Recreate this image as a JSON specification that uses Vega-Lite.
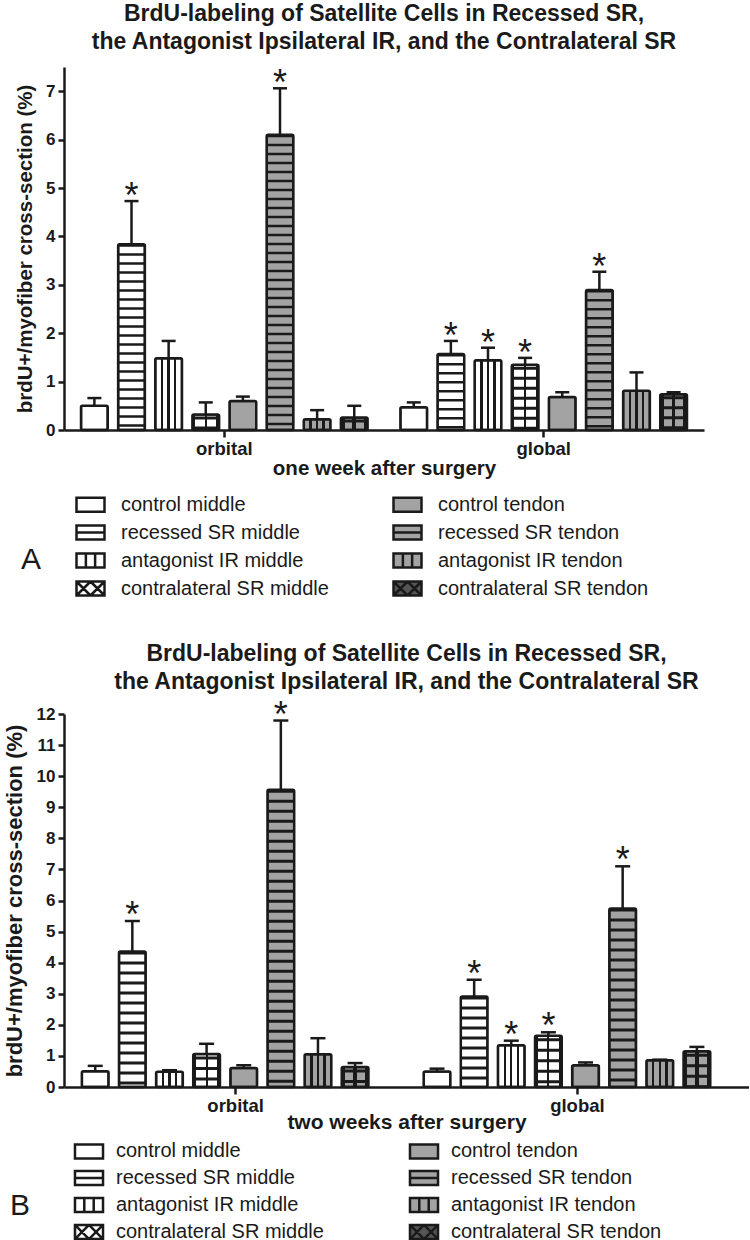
{
  "$schema": "https://vega.github.io/schema/vega-lite/v6.json",
  "padding": {"left": 3, "top": 3, "right": 0, "bottom": 0},
  "spacing": 41,
  "columns": 1,
  "align": "none",
  "resolve": {"scale": {"fill": "independent", "shape": "independent"}, "legend": {"fill": "independent", "shape": "independent"}},
  "config": {"view": {"stroke": null}, "axis": {"grid": false}, "font": "Liberation Sans"},
  "datasets": {
    "a": [
      {"region": "orbital", "series": "control middle", "mean": 0.50, "upper": 0.66, "sig": false},
      {"region": "orbital", "series": "recessed SR middle", "mean": 3.84, "upper": 4.73, "sig": true},
      {"region": "orbital", "series": "antagonist IR middle", "mean": 1.48, "upper": 1.84, "sig": false},
      {"region": "orbital", "series": "contralateral SR middle", "mean": 0.32, "upper": 0.57, "sig": false},
      {"region": "orbital", "series": "control tendon", "mean": 0.60, "upper": 0.69, "sig": false},
      {"region": "orbital", "series": "recessed SR tendon", "mean": 6.10, "upper": 7.06, "sig": true},
      {"region": "orbital", "series": "antagonist IR tendon", "mean": 0.22, "upper": 0.41, "sig": false},
      {"region": "orbital", "series": "contralateral SR tendon", "mean": 0.26, "upper": 0.50, "sig": false},
      {"region": "global", "series": "control middle", "mean": 0.47, "upper": 0.57, "sig": false},
      {"region": "global", "series": "recessed SR middle", "mean": 1.57, "upper": 1.84, "sig": true},
      {"region": "global", "series": "antagonist IR middle", "mean": 1.44, "upper": 1.70, "sig": true},
      {"region": "global", "series": "contralateral SR middle", "mean": 1.35, "upper": 1.49, "sig": true},
      {"region": "global", "series": "control tendon", "mean": 0.68, "upper": 0.78, "sig": false},
      {"region": "global", "series": "recessed SR tendon", "mean": 2.89, "upper": 3.27, "sig": true},
      {"region": "global", "series": "antagonist IR tendon", "mean": 0.81, "upper": 1.19, "sig": false},
      {"region": "global", "series": "contralateral SR tendon", "mean": 0.74, "upper": 0.78, "sig": false}
    ],
    "b": [
      {"region": "orbital", "series": "control middle", "mean": 0.51, "upper": 0.68, "sig": false},
      {"region": "orbital", "series": "recessed SR middle", "mean": 4.36, "upper": 5.34, "sig": true},
      {"region": "orbital", "series": "antagonist IR middle", "mean": 0.49, "upper": 0.54, "sig": false},
      {"region": "orbital", "series": "contralateral SR middle", "mean": 1.06, "upper": 1.39, "sig": false},
      {"region": "orbital", "series": "control tendon", "mean": 0.61, "upper": 0.70, "sig": false},
      {"region": "orbital", "series": "recessed SR tendon", "mean": 9.56, "upper": 11.79, "sig": true},
      {"region": "orbital", "series": "antagonist IR tendon", "mean": 1.05, "upper": 1.57, "sig": false},
      {"region": "orbital", "series": "contralateral SR tendon", "mean": 0.64, "upper": 0.77, "sig": false},
      {"region": "global", "series": "control middle", "mean": 0.50, "upper": 0.59, "sig": false},
      {"region": "global", "series": "recessed SR middle", "mean": 2.91, "upper": 3.45, "sig": true},
      {"region": "global", "series": "antagonist IR middle", "mean": 1.34, "upper": 1.49, "sig": true},
      {"region": "global", "series": "contralateral SR middle", "mean": 1.65, "upper": 1.76, "sig": true},
      {"region": "global", "series": "control tendon", "mean": 0.70, "upper": 0.79, "sig": false},
      {"region": "global", "series": "recessed SR tendon", "mean": 5.74, "upper": 7.10, "sig": true},
      {"region": "global", "series": "antagonist IR tendon", "mean": 0.86, "upper": 0.88, "sig": false},
      {"region": "global", "series": "contralateral SR tendon", "mean": 1.15, "upper": 1.29, "sig": false}
    ]
  },
  "concat": [
    {
      "width": 640,
      "height": 363,
      "data": {"name": "a"},
      "title": {"text": ["BrdU-labeling of Satellite Cells in Recessed SR,", "the Antagonist Ipsilateral IR, and the Contralateral SR"], "font": "Liberation Sans", "fontSize": 23, "fontWeight": "bold", "color": "#1a1a1a", "lineHeight": 28, "anchor": "middle", "frame": "group", "offset": 12},
      "encoding": {
        "x": {"field": "region", "type": "nominal", "sort": ["orbital", "global"], "scale": {"paddingInner": 0.07, "paddingOuter": 0.037},
          "axis": {"title": "one week after surgery", "labelAngle": 0, "domainWidth": 2.5, "domainColor": "#1a1a1a", "tickColor": "#1a1a1a", "tickWidth": 2.5, "tickSize": 7, "labelFont": "Liberation Sans", "labelFontWeight": "bold", "labelFontSize": 18.5, "labelColor": "#1a1a1a", "labelPadding": 2, "titleFont": "Liberation Sans", "titleFontWeight": "bold", "titleFontSize": 20.5, "titleColor": "#1a1a1a", "titlePadding": 1}},
        "xOffset": {"field": "series", "type": "nominal", "scale": {"domain": ["control middle", "recessed SR middle", "antagonist IR middle", "contralateral SR middle", "control tendon", "recessed SR tendon", "antagonist IR tendon", "contralateral SR tendon"], "paddingInner": 0.28, "paddingOuter": 0.14}},
        "y": {"field": "mean", "type": "quantitative", "scale": {"domain": [0, 7.5], "nice": false},
          "axis": {"title": "brdU+/myofiber cross-section (%)", "values": [0, 1, 2, 3, 4, 5, 6, 7], "format": "d", "domainWidth": 2.5, "domainColor": "#1a1a1a", "tickColor": "#1a1a1a", "tickWidth": 2.5, "tickSize": 6, "labelFont": "Liberation Sans", "labelFontWeight": "bold", "labelFontSize": 17, "labelColor": "#1a1a1a", "labelPadding": 3, "titleFont": "Liberation Sans", "titleFontWeight": "bold", "titleFontSize": 20.5, "titleColor": "#1a1a1a", "titlePadding": 10}}
      },
      "layer": [
        {"mark": {"type": "bar", "cornerRadius": 1.5},
         "encoding": {
           "fill": {"field": "series", "type": "nominal", "scale": {"domain": ["control middle", "recessed SR middle", "antagonist IR middle", "contralateral SR middle", "control tendon", "recessed SR tendon", "antagonist IR tendon", "contralateral SR tendon"], "range": ["#ffffff", "#ffffff", "#ffffff", "#ffffff", "#a3a3a3", "#a3a3a3", "#a3a3a3", "#555555"]},
             "legend": {"title": "A", "orient": "none", "legendX": -43, "legendY": 422, "titleOrient": "left", "titleAngle": 0, "titleFont": "Liberation Sans", "titleFontSize": 30, "titleFontWeight": "normal", "titleColor": "#1a1a1a", "titlePadding": 33, "titleAnchor": "middle", "titleBaseline": "top", "columns": 2, "columnPadding": 59, "rowPadding": 0, "labelFont": "Liberation Sans", "labelFontSize": 20, "labelColor": "#1a1a1a", "labelOffset": 15, "labelLimit": 400, "symbolStrokeColor": "#1a1a1a", "symbolStrokeWidth": 2.5, "symbolSize": 784}}
         }},
        {"transform": [{"filter": "datum.series === 'antagonist IR middle'"}],
         "mark": {"type": "bar", "cornerRadius": 1.5, "fill": {"gradient": "linear", "x1": 0, "y1": 0, "x2": 1, "y2": 0, "stops": [{"offset": 0, "color": "#ffffff"}, {"offset": 0.21, "color": "#ffffff"}, {"offset": 0.21, "color": "#1a1a1a"}, {"offset": 0.3, "color": "#1a1a1a"}, {"offset": 0.3, "color": "#ffffff"}, {"offset": 0.455, "color": "#ffffff"}, {"offset": 0.455, "color": "#1a1a1a"}, {"offset": 0.545, "color": "#1a1a1a"}, {"offset": 0.545, "color": "#ffffff"}, {"offset": 0.7, "color": "#ffffff"}, {"offset": 0.7, "color": "#1a1a1a"}, {"offset": 0.79, "color": "#1a1a1a"}, {"offset": 0.79, "color": "#ffffff"}, {"offset": 1, "color": "#ffffff"}]}}},
        {"transform": [{"filter": "datum.series === 'antagonist IR tendon'"}],
         "mark": {"type": "bar", "cornerRadius": 1.5, "fill": {"gradient": "linear", "x1": 0, "y1": 0, "x2": 1, "y2": 0, "stops": [{"offset": 0, "color": "#a3a3a3"}, {"offset": 0.21, "color": "#a3a3a3"}, {"offset": 0.21, "color": "#1a1a1a"}, {"offset": 0.3, "color": "#1a1a1a"}, {"offset": 0.3, "color": "#a3a3a3"}, {"offset": 0.455, "color": "#a3a3a3"}, {"offset": 0.455, "color": "#1a1a1a"}, {"offset": 0.545, "color": "#1a1a1a"}, {"offset": 0.545, "color": "#a3a3a3"}, {"offset": 0.7, "color": "#a3a3a3"}, {"offset": 0.7, "color": "#1a1a1a"}, {"offset": 0.79, "color": "#1a1a1a"}, {"offset": 0.79, "color": "#a3a3a3"}, {"offset": 1, "color": "#a3a3a3"}]}}},
        {"transform": [{"filter": "datum.series === 'contralateral SR middle'"}],
         "mark": {"type": "bar", "cornerRadius": 1.5, "fill": {"gradient": "linear", "x1": 0, "y1": 0, "x2": 1, "y2": 0, "stops": [{"offset": 0, "color": "#1a1a1a"}, {"offset": 0.1, "color": "#1a1a1a"}, {"offset": 0.1, "color": "#ffffff"}, {"offset": 0.46, "color": "#ffffff"}, {"offset": 0.46, "color": "#1a1a1a"}, {"offset": 0.54, "color": "#1a1a1a"}, {"offset": 0.54, "color": "#ffffff"}, {"offset": 0.9, "color": "#ffffff"}, {"offset": 0.9, "color": "#1a1a1a"}, {"offset": 1, "color": "#1a1a1a"}]}}},
        {"transform": [{"filter": "datum.series === 'contralateral SR tendon'"}],
         "mark": {"type": "bar", "cornerRadius": 1.5, "fill": {"gradient": "linear", "x1": 0, "y1": 0, "x2": 1, "y2": 0, "stops": [{"offset": 0, "color": "#1a1a1a"}, {"offset": 0.14, "color": "#1a1a1a"}, {"offset": 0.14, "color": "#a3a3a3"}, {"offset": 0.43, "color": "#a3a3a3"}, {"offset": 0.43, "color": "#1a1a1a"}, {"offset": 0.57, "color": "#1a1a1a"}, {"offset": 0.57, "color": "#a3a3a3"}, {"offset": 0.86, "color": "#a3a3a3"}, {"offset": 0.86, "color": "#1a1a1a"}, {"offset": 1, "color": "#1a1a1a"}]}}},
        {"transform": [{"filter": "datum.series === 'recessed SR middle' || datum.series === 'recessed SR tendon'"}],
         "mark": {"type": "rule", "stroke": "#1a1a1a", "strokeWidth": 25, "strokeDash": [2.5, 6.5], "strokeCap": "butt", "clip": true},
         "encoding": {"y2": {"datum": 0}}},
        {"transform": [{"filter": "datum.series === 'contralateral SR middle' || datum.series === 'contralateral SR tendon'"}],
         "mark": {"type": "rule", "stroke": "#1a1a1a", "strokeWidth": 25, "strokeDash": [3, 7], "strokeDashOffset": 8, "strokeCap": "butt", "clip": true},
         "encoding": {"y2": {"datum": 0}}},
        {"mark": {"type": "bar", "cornerRadius": 1.5, "fill": "#ffffff", "fillOpacity": 0, "stroke": "#1a1a1a", "strokeWidth": 2.5}},
        {"mark": {"type": "rule", "stroke": "#1a1a1a", "strokeWidth": 2.5},
         "encoding": {"y2": {"field": "upper"}}},
        {"mark": {"type": "tick", "orient": "horizontal", "size": 14, "thickness": 2.5, "color": "#1a1a1a", "opacity": 1},
         "encoding": {"y": {"field": "upper", "type": "quantitative",
           "axis": {"title": "brdU+/myofiber cross-section (%)", "values": [0, 1, 2, 3, 4, 5, 6, 7], "format": "d", "domainWidth": 2.5, "domainColor": "#1a1a1a", "tickColor": "#1a1a1a", "tickWidth": 2.5, "tickSize": 6, "labelFont": "Liberation Sans", "labelFontWeight": "bold", "labelFontSize": 17, "labelColor": "#1a1a1a", "labelPadding": 3, "titleFont": "Liberation Sans", "titleFontWeight": "bold", "titleFontSize": 20.5, "titleColor": "#1a1a1a", "titlePadding": 10}}}},
        {"transform": [{"filter": "datum.sig"}],
         "mark": {"type": "text", "text": "*", "font": "Liberation Sans", "fontSize": 36, "baseline": "alphabetic", "dy": 7, "color": "#1a1a1a"},
         "encoding": {"y": {"field": "upper", "type": "quantitative",
           "axis": {"title": "brdU+/myofiber cross-section (%)", "values": [0, 1, 2, 3, 4, 5, 6, 7], "format": "d", "domainWidth": 2.5, "domainColor": "#1a1a1a", "tickColor": "#1a1a1a", "tickWidth": 2.5, "tickSize": 6, "labelFont": "Liberation Sans", "labelFontWeight": "bold", "labelFontSize": 17, "labelColor": "#1a1a1a", "labelPadding": 3, "titleFont": "Liberation Sans", "titleFontWeight": "bold", "titleFontSize": 20.5, "titleColor": "#1a1a1a", "titlePadding": 10}}}},
        {"transform": [{"filter": "datum.mean < 0"}],
         "mark": {"type": "point", "filled": true, "opacity": 1, "size": 784, "stroke": "#1a1a1a", "strokeWidth": 2.5},
         "encoding": {
           "fill": {"field": "series", "type": "nominal",
             "legend": {"title": "A", "orient": "none", "legendX": -43, "legendY": 422, "titleOrient": "left", "titleAngle": 0, "titleFont": "Liberation Sans", "titleFontSize": 30, "titleFontWeight": "normal", "titleColor": "#1a1a1a", "titlePadding": 33, "titleAnchor": "middle", "titleBaseline": "top", "columns": 2, "columnPadding": 59, "rowPadding": 0, "labelFont": "Liberation Sans", "labelFontSize": 20, "labelColor": "#1a1a1a", "labelOffset": 15, "labelLimit": 400, "symbolStrokeColor": "#1a1a1a", "symbolStrokeWidth": 2.5, "symbolSize": 784}},
           "shape": {"field": "series", "type": "nominal",
             "scale": {"domain": ["control middle", "recessed SR middle", "antagonist IR middle", "contralateral SR middle", "control tendon", "recessed SR tendon", "antagonist IR tendon", "contralateral SR tendon"],
               "range": ["M-1,-0.5L1,-0.5L1,0.5L-1,0.5Z", "M-1,-0.5L1,-0.5L1,0.5L-1,0.5ZM-1,0L1,0", "M-1,-0.5L1,-0.5L1,0.5L-1,0.5ZM-0.33,-0.5L-0.33,0.5M0.33,-0.5L0.33,0.5", "M-1,-0.5L1,-0.5L1,0.5L-1,0.5ZM-1,-0.5L0,0.5M-1,0.5L0,-0.5M0,-0.5L1,0.5M0,0.5L1,-0.5", "M-1,-0.5L1,-0.5L1,0.5L-1,0.5Z", "M-1,-0.5L1,-0.5L1,0.5L-1,0.5ZM-1,0L1,0", "M-1,-0.5L1,-0.5L1,0.5L-1,0.5ZM-0.33,-0.5L-0.33,0.5M0.33,-0.5L0.33,0.5", "M-1,-0.5L1,-0.5L1,0.5L-1,0.5ZM-1,-0.5L0,0.5M-1,0.5L0,-0.5M0,-0.5L1,0.5M0,0.5L1,-0.5"]},
             "legend": {"title": "A", "orient": "none", "legendX": -43, "legendY": 422, "titleOrient": "left", "titleAngle": 0, "titleFont": "Liberation Sans", "titleFontSize": 30, "titleFontWeight": "normal", "titleColor": "#1a1a1a", "titlePadding": 33, "titleAnchor": "middle", "titleBaseline": "top", "columns": 2, "columnPadding": 59, "rowPadding": 0, "labelFont": "Liberation Sans", "labelFontSize": 20, "labelColor": "#1a1a1a", "labelOffset": 15, "labelLimit": 400, "symbolStrokeColor": "#1a1a1a", "symbolStrokeWidth": 2.5, "symbolSize": 784}}
         }}
      ]
    },
    {
      "width": 685,
      "height": 373,
      "data": {"name": "b"},
      "title": {"text": ["BrdU-labeling of Satellite Cells in Recessed SR,", "the Antagonist Ipsilateral IR, and the Contralateral SR"], "font": "Liberation Sans", "fontSize": 23, "fontWeight": "bold", "color": "#1a1a1a", "lineHeight": 28, "anchor": "middle", "frame": "group", "offset": 4},
      "encoding": {
        "x": {"field": "region", "type": "nominal", "sort": ["orbital", "global"], "scale": {"paddingInner": 0.07, "paddingOuter": 0.037},
          "axis": {"title": "two weeks after surgery", "labelAngle": 0, "domainWidth": 2.5, "domainColor": "#1a1a1a", "tickColor": "#1a1a1a", "tickWidth": 2.5, "tickSize": 7, "labelFont": "Liberation Sans", "labelFontWeight": "bold", "labelFontSize": 18.5, "labelColor": "#1a1a1a", "labelPadding": 2, "titleFont": "Liberation Sans", "titleFontWeight": "bold", "titleFontSize": 21, "titleColor": "#1a1a1a", "titlePadding": -3}},
        "xOffset": {"field": "series", "type": "nominal", "scale": {"domain": ["control middle", "recessed SR middle", "antagonist IR middle", "contralateral SR middle", "control tendon", "recessed SR tendon", "antagonist IR tendon", "contralateral SR tendon"], "paddingInner": 0.28, "paddingOuter": 0.14}},
        "y": {"field": "mean", "type": "quantitative", "scale": {"domain": [0, 12], "nice": false},
          "axis": {"title": "brdU+/myofiber cross-section (%)", "values": [0, 1, 2, 3, 4, 5, 6, 7, 8, 9, 10, 11, 12], "format": "d", "domainWidth": 2.5, "domainColor": "#1a1a1a", "tickColor": "#1a1a1a", "tickWidth": 2.5, "tickSize": 6, "labelFont": "Liberation Sans", "labelFontWeight": "bold", "labelFontSize": 17, "labelColor": "#1a1a1a", "labelPadding": 3, "titleFont": "Liberation Sans", "titleFontWeight": "bold", "titleFontSize": 22, "titleColor": "#1a1a1a", "titlePadding": 10}}
      },
      "layer": [
        {"mark": {"type": "bar", "cornerRadius": 1.5},
         "encoding": {
           "fill": {"field": "series", "type": "nominal", "scale": {"domain": ["control middle", "recessed SR middle", "antagonist IR middle", "contralateral SR middle", "control tendon", "recessed SR tendon", "antagonist IR tendon", "contralateral SR tendon"], "range": ["#ffffff", "#ffffff", "#ffffff", "#ffffff", "#a3a3a3", "#a3a3a3", "#a3a3a3", "#555555"]},
             "legend": {"title": "B", "orient": "none", "legendX": -54, "legendY": 423, "titleOrient": "left", "titleAngle": 0, "titleFont": "Liberation Sans", "titleFontSize": 30, "titleFontWeight": "normal", "titleColor": "#1a1a1a", "titlePadding": 44, "titleAnchor": "middle", "titleBaseline": "top", "columns": 2, "columnPadding": 80, "rowPadding": 0, "labelFont": "Liberation Sans", "labelFontSize": 20, "labelColor": "#1a1a1a", "labelOffset": 13, "labelLimit": 400, "symbolStrokeColor": "#1a1a1a", "symbolStrokeWidth": 2.5, "symbolSize": 650}}
         }},
        {"transform": [{"filter": "datum.series === 'antagonist IR middle'"}],
         "mark": {"type": "bar", "cornerRadius": 1.5, "fill": {"gradient": "linear", "x1": 0, "y1": 0, "x2": 1, "y2": 0, "stops": [{"offset": 0, "color": "#ffffff"}, {"offset": 0.21, "color": "#ffffff"}, {"offset": 0.21, "color": "#1a1a1a"}, {"offset": 0.3, "color": "#1a1a1a"}, {"offset": 0.3, "color": "#ffffff"}, {"offset": 0.455, "color": "#ffffff"}, {"offset": 0.455, "color": "#1a1a1a"}, {"offset": 0.545, "color": "#1a1a1a"}, {"offset": 0.545, "color": "#ffffff"}, {"offset": 0.7, "color": "#ffffff"}, {"offset": 0.7, "color": "#1a1a1a"}, {"offset": 0.79, "color": "#1a1a1a"}, {"offset": 0.79, "color": "#ffffff"}, {"offset": 1, "color": "#ffffff"}]}}},
        {"transform": [{"filter": "datum.series === 'antagonist IR tendon'"}],
         "mark": {"type": "bar", "cornerRadius": 1.5, "fill": {"gradient": "linear", "x1": 0, "y1": 0, "x2": 1, "y2": 0, "stops": [{"offset": 0, "color": "#a3a3a3"}, {"offset": 0.21, "color": "#a3a3a3"}, {"offset": 0.21, "color": "#1a1a1a"}, {"offset": 0.3, "color": "#1a1a1a"}, {"offset": 0.3, "color": "#a3a3a3"}, {"offset": 0.455, "color": "#a3a3a3"}, {"offset": 0.455, "color": "#1a1a1a"}, {"offset": 0.545, "color": "#1a1a1a"}, {"offset": 0.545, "color": "#a3a3a3"}, {"offset": 0.7, "color": "#a3a3a3"}, {"offset": 0.7, "color": "#1a1a1a"}, {"offset": 0.79, "color": "#1a1a1a"}, {"offset": 0.79, "color": "#a3a3a3"}, {"offset": 1, "color": "#a3a3a3"}]}}},
        {"transform": [{"filter": "datum.series === 'contralateral SR middle'"}],
         "mark": {"type": "bar", "cornerRadius": 1.5, "fill": {"gradient": "linear", "x1": 0, "y1": 0, "x2": 1, "y2": 0, "stops": [{"offset": 0, "color": "#1a1a1a"}, {"offset": 0.1, "color": "#1a1a1a"}, {"offset": 0.1, "color": "#ffffff"}, {"offset": 0.46, "color": "#ffffff"}, {"offset": 0.46, "color": "#1a1a1a"}, {"offset": 0.54, "color": "#1a1a1a"}, {"offset": 0.54, "color": "#ffffff"}, {"offset": 0.9, "color": "#ffffff"}, {"offset": 0.9, "color": "#1a1a1a"}, {"offset": 1, "color": "#1a1a1a"}]}}},
        {"transform": [{"filter": "datum.series === 'contralateral SR tendon'"}],
         "mark": {"type": "bar", "cornerRadius": 1.5, "fill": {"gradient": "linear", "x1": 0, "y1": 0, "x2": 1, "y2": 0, "stops": [{"offset": 0, "color": "#1a1a1a"}, {"offset": 0.14, "color": "#1a1a1a"}, {"offset": 0.14, "color": "#a3a3a3"}, {"offset": 0.43, "color": "#a3a3a3"}, {"offset": 0.43, "color": "#1a1a1a"}, {"offset": 0.57, "color": "#1a1a1a"}, {"offset": 0.57, "color": "#a3a3a3"}, {"offset": 0.86, "color": "#a3a3a3"}, {"offset": 0.86, "color": "#1a1a1a"}, {"offset": 1, "color": "#1a1a1a"}]}}},
        {"transform": [{"filter": "datum.series === 'recessed SR middle' || datum.series === 'recessed SR tendon'"}],
         "mark": {"type": "rule", "stroke": "#1a1a1a", "strokeWidth": 27, "strokeDash": [3, 7], "strokeCap": "butt", "clip": true},
         "encoding": {"y2": {"datum": 0}}},
        {"transform": [{"filter": "datum.series === 'contralateral SR middle' || datum.series === 'contralateral SR tendon'"}],
         "mark": {"type": "rule", "stroke": "#1a1a1a", "strokeWidth": 27, "strokeDash": [3, 7.5], "strokeDashOffset": 8, "strokeCap": "butt", "clip": true},
         "encoding": {"y2": {"datum": 0}}},
        {"mark": {"type": "bar", "cornerRadius": 1.5, "fill": "#ffffff", "fillOpacity": 0, "stroke": "#1a1a1a", "strokeWidth": 2.5}},
        {"mark": {"type": "rule", "stroke": "#1a1a1a", "strokeWidth": 2.5},
         "encoding": {"y2": {"field": "upper"}}},
        {"mark": {"type": "tick", "orient": "horizontal", "size": 15, "thickness": 2.5, "color": "#1a1a1a", "opacity": 1},
         "encoding": {"y": {"field": "upper", "type": "quantitative",
           "axis": {"title": "brdU+/myofiber cross-section (%)", "values": [0, 1, 2, 3, 4, 5, 6, 7, 8, 9, 10, 11, 12], "format": "d", "domainWidth": 2.5, "domainColor": "#1a1a1a", "tickColor": "#1a1a1a", "tickWidth": 2.5, "tickSize": 6, "labelFont": "Liberation Sans", "labelFontWeight": "bold", "labelFontSize": 17, "labelColor": "#1a1a1a", "labelPadding": 3, "titleFont": "Liberation Sans", "titleFontWeight": "bold", "titleFontSize": 22, "titleColor": "#1a1a1a", "titlePadding": 10}}}},
        {"transform": [{"filter": "datum.sig"}],
         "mark": {"type": "text", "text": "*", "font": "Liberation Sans", "fontSize": 36, "baseline": "alphabetic", "dy": 6, "color": "#1a1a1a"},
         "encoding": {"y": {"field": "upper", "type": "quantitative",
           "axis": {"title": "brdU+/myofiber cross-section (%)", "values": [0, 1, 2, 3, 4, 5, 6, 7, 8, 9, 10, 11, 12], "format": "d", "domainWidth": 2.5, "domainColor": "#1a1a1a", "tickColor": "#1a1a1a", "tickWidth": 2.5, "tickSize": 6, "labelFont": "Liberation Sans", "labelFontWeight": "bold", "labelFontSize": 17, "labelColor": "#1a1a1a", "labelPadding": 3, "titleFont": "Liberation Sans", "titleFontWeight": "bold", "titleFontSize": 22, "titleColor": "#1a1a1a", "titlePadding": 10}}}},
        {"transform": [{"filter": "datum.mean < 0"}],
         "mark": {"type": "point", "filled": true, "opacity": 1, "size": 650, "stroke": "#1a1a1a", "strokeWidth": 2.5},
         "encoding": {
           "fill": {"field": "series", "type": "nominal",
             "legend": {"title": "B", "orient": "none", "legendX": -54, "legendY": 423, "titleOrient": "left", "titleAngle": 0, "titleFont": "Liberation Sans", "titleFontSize": 30, "titleFontWeight": "normal", "titleColor": "#1a1a1a", "titlePadding": 44, "titleAnchor": "middle", "titleBaseline": "top", "columns": 2, "columnPadding": 80, "rowPadding": 0, "labelFont": "Liberation Sans", "labelFontSize": 20, "labelColor": "#1a1a1a", "labelOffset": 13, "labelLimit": 400, "symbolStrokeColor": "#1a1a1a", "symbolStrokeWidth": 2.5, "symbolSize": 650}},
           "shape": {"field": "series", "type": "nominal",
             "scale": {"domain": ["control middle", "recessed SR middle", "antagonist IR middle", "contralateral SR middle", "control tendon", "recessed SR tendon", "antagonist IR tendon", "contralateral SR tendon"],
               "range": ["M-1.1,-0.55L1.1,-0.55L1.1,0.55L-1.1,0.55Z", "M-1.1,-0.55L1.1,-0.55L1.1,0.55L-1.1,0.55ZM-1.1,0L1.1,0", "M-1.1,-0.55L1.1,-0.55L1.1,0.55L-1.1,0.55ZM-0.37,-0.55L-0.37,0.55M0.37,-0.55L0.37,0.55", "M-1.1,-0.55L1.1,-0.55L1.1,0.55L-1.1,0.55ZM-1.1,-0.55L0,0.55M-1.1,0.55L0,-0.55M0,-0.55L1.1,0.55M0,0.55L1.1,-0.55", "M-1.1,-0.55L1.1,-0.55L1.1,0.55L-1.1,0.55Z", "M-1.1,-0.55L1.1,-0.55L1.1,0.55L-1.1,0.55ZM-1.1,0L1.1,0", "M-1.1,-0.55L1.1,-0.55L1.1,0.55L-1.1,0.55ZM-0.37,-0.55L-0.37,0.55M0.37,-0.55L0.37,0.55", "M-1.1,-0.55L1.1,-0.55L1.1,0.55L-1.1,0.55ZM-1.1,-0.55L0,0.55M-1.1,0.55L0,-0.55M0,-0.55L1.1,0.55M0,0.55L1.1,-0.55"]},
             "legend": {"title": "B", "orient": "none", "legendX": -54, "legendY": 423, "titleOrient": "left", "titleAngle": 0, "titleFont": "Liberation Sans", "titleFontSize": 30, "titleFontWeight": "normal", "titleColor": "#1a1a1a", "titlePadding": 44, "titleAnchor": "middle", "titleBaseline": "top", "columns": 2, "columnPadding": 80, "rowPadding": 0, "labelFont": "Liberation Sans", "labelFontSize": 20, "labelColor": "#1a1a1a", "labelOffset": 13, "labelLimit": 400, "symbolStrokeColor": "#1a1a1a", "symbolStrokeWidth": 2.5, "symbolSize": 650}}
         }}
      ]
    }
  ]
}
